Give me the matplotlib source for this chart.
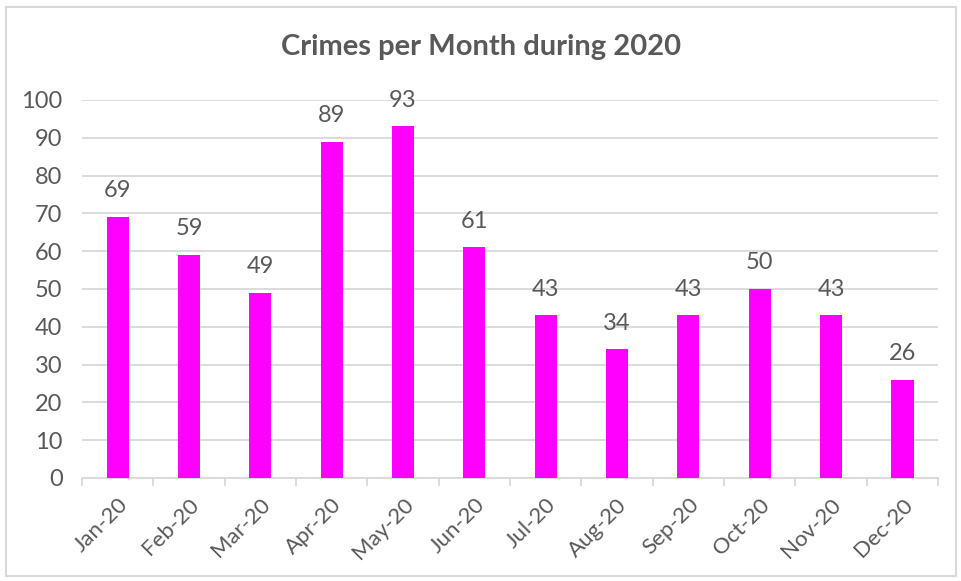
import matplotlib.pyplot as plt
from matplotlib.patches import Rectangle

months = ['Jan-20', 'Feb-20', 'Mar-20', 'Apr-20', 'May-20', 'Jun-20',
          'Jul-20', 'Aug-20', 'Sep-20', 'Oct-20', 'Nov-20', 'Dec-20']
crimes = [69, 59, 49, 89, 93, 61, 43, 34, 43, 50, 43, 26]
yticks = [0, 10, 20, 30, 40, 50, 60, 70, 80, 90, 100]

text_color = '#595959'
grid_color = '#d9d9d9'
plt.rcParams['font.family'] = ['Lato', 'DejaVu Sans']

fig = plt.figure(figsize=(9.62, 5.81), dpi=100)
ax = fig.add_axes([0.0852, 0.1773, 0.890, 0.6506])

x = list(range(len(months)))
ax.bar(x, crimes, width=0.31, color='#ff00ff', zorder=3)

# value labels above bars
for xi, v in zip(x, crimes):
    ax.annotate(str(v), (xi, v), xytext=(0, 19), textcoords='offset points',
                ha='center', va='center', fontsize=17, color=text_color)

ax.set_ylim(0, 100)
ax.set_xlim(-0.5, len(months) - 0.5)
ax.set_yticks(yticks)
ax.set_yticklabels([str(t) for t in yticks], fontsize=17, color=text_color)
ax.yaxis.grid(True, color=grid_color, linewidth=1.3, zorder=0)
ax.tick_params(axis='y', length=0, pad=14)

ax.set_xticks(x)
ax.set_xticklabels(months, rotation=45, ha='right', rotation_mode='anchor',
                   fontsize=16, color=text_color)
ax.set_xticks([i - 0.5 for i in range(len(months) + 1)], minor=True)
ax.tick_params(axis='x', which='major', length=0, pad=12)
ax.tick_params(axis='x', which='minor', length=6, color=grid_color, width=1.3)

for side in ['top', 'right', 'left']:
    ax.spines[side].set_visible(False)
ax.spines['bottom'].set_color(grid_color)
ax.spines['bottom'].set_linewidth(1.3)

fig.text(0.5, 0.919, 'Crimes per Month during 2020', ha='center', va='center',
         fontsize=21, fontweight='bold', color=text_color)

# chart border
fig.patches.append(Rectangle((0.006, 0.008), 0.988, 0.98, transform=fig.transFigure,
                             fill=False, edgecolor=grid_color, linewidth=1.5))

fig.savefig('out.png', dpi=100)
